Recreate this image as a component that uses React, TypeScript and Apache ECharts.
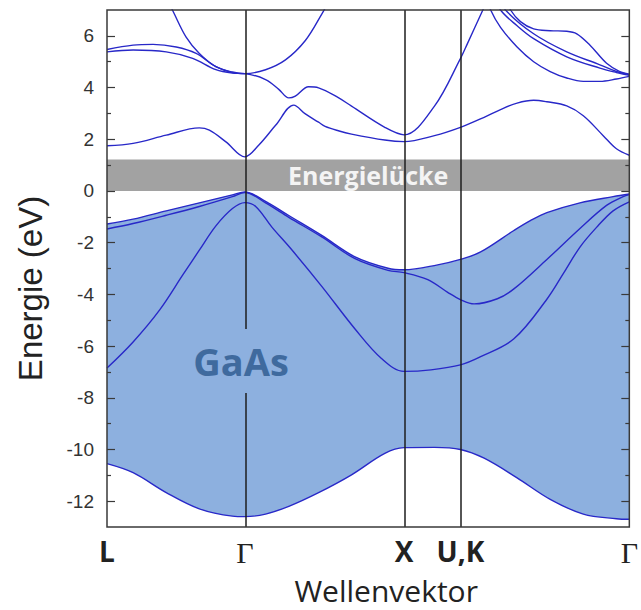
import React, { useEffect, useRef } from 'react';
import * as echarts from 'echarts';

// high-symmetry points along the k path (L - Γ - X - U,K - Γ)
const kTicks = [0, 0.866, 1.866, 2.22, 3.281];
const kLabels = ['L', 'Γ', 'X', 'U,K', 'Γ'];
const yMajor = [-12, -10, -8, -6, -4, -2, 0, 2, 4, 6];
const yMinor = [-11, -9, -7, -5, -3, -1, 1, 3, 5];
const gapBand = [0, 1.22];
const gaasLabelAt = [0.842, -6.58];

// valence bands [k, E(eV)]
const vb1 = [[0,-10.55],[0.164,-10.9],[0.372,-11.67],[0.58,-12.3],[0.788,-12.58],[0.866,-12.6],[0.996,-12.5],[1.142,-12.2],[1.329,-11.67],[1.536,-10.98],[1.745,-10.15],[1.866,-9.93],[2.057,-9.92],[2.22,-10.0],[2.369,-10.34],[2.576,-11.1],[2.784,-11.93],[2.992,-12.5],[3.2,-12.68],[3.281,-12.7]];
const vb2 = [[0,-6.85],[0.164,-5.84],[0.331,-4.6],[0.476,-3.25],[0.58,-2.29],[0.684,-1.35],[0.788,-0.68],[0.866,-0.45],[0.934,-0.6],[1.037,-1.41],[1.15,-2.2],[1.349,-3.69],[1.558,-5.34],[1.724,-6.48],[1.866,-6.98],[2.035,-6.92],[2.22,-6.73],[2.347,-6.41],[2.556,-5.72],[2.763,-4.19],[2.868,-3.18],[2.971,-2.17],[3.075,-1.41],[3.179,-0.77],[3.281,-0.42]];
const vb3 = [[0,-1.47],[0.164,-1.26],[0.372,-0.94],[0.58,-0.6],[0.788,-0.22],[0.866,-0.06],[0.996,-0.46],[1.142,-1.02],[1.349,-1.78],[1.558,-2.62],[1.765,-3.07],[1.866,-3.16],[2.015,-3.43],[2.14,-3.92],[2.22,-4.2],[2.306,-4.37],[2.452,-4.17],[2.556,-3.79],[2.763,-2.65],[2.971,-1.45],[3.138,-0.56],[3.242,-0.22],[3.281,-0.14]];
const vb4 = [[0,-1.28],[0.164,-1.09],[0.372,-0.77],[0.58,-0.46],[0.788,-0.15],[0.866,-0.04],[0.996,-0.4],[1.142,-0.95],[1.349,-1.72],[1.558,-2.55],[1.765,-2.99],[1.866,-3.05],[2.077,-2.86],[2.22,-2.65],[2.347,-2.36],[2.556,-1.53],[2.659,-1.15],[2.763,-0.84],[2.971,-0.46],[3.179,-0.22],[3.281,-0.12]];

// conduction bands [k, E(eV)]
const cb1 = [[0,1.75],[0.164,1.84],[0.372,2.16],[0.58,2.44],[0.643,2.35],[0.747,1.9],[0.866,1.32],[0.954,1.78],[1.059,2.54],[1.173,3.32],[1.246,2.98],[1.329,2.66],[1.37,2.5],[1.453,2.33],[1.536,2.2],[1.745,1.97],[1.866,1.91],[2.057,2.14],[2.22,2.46],[2.369,2.85],[2.472,3.15],[2.576,3.4],[2.68,3.51],[2.763,3.45],[2.888,3.29],[2.992,2.91],[3.117,2.14],[3.2,1.63],[3.281,1.38]];
const cb2 = [[0,5.38],[0.164,5.45],[0.372,5.38],[0.538,5.13],[0.684,4.69],[0.788,4.56],[0.866,4.54],[0.996,4.31],[1.079,3.93],[1.142,3.6],[1.183,3.67],[1.266,4.03],[1.329,3.99],[1.453,3.61],[1.536,3.28],[1.745,2.46],[1.866,2.17],[2.057,3.28],[2.22,5.12],[2.264,5.7],[2.358,6.96],[2.42,7.8]];
const cb3 = [[0,5.47],[0.164,5.64],[0.289,5.67],[0.435,5.57],[0.56,5.32],[0.684,4.81],[0.788,4.58],[0.866,4.54]];
const cb4 = [[0.37,7.5],[0.414,6.96],[0.497,5.95],[0.58,5.32],[0.684,4.81],[0.788,4.6],[0.866,4.54],[0.996,4.69],[1.121,5.07],[1.246,5.82],[1.349,6.84],[1.39,7.3]];
const cb5 = [[2.38,7.6],[2.41,7.0],[2.472,6.33],[2.576,5.57],[2.68,5.0],[2.784,4.62],[2.888,4.37],[2.992,4.24],[3.096,4.24],[3.2,4.33],[3.281,4.43]];
const cb6 = [[2.44,7.5],[2.472,7.0],[2.576,6.39],[2.68,5.89],[2.888,5.19],[3.096,4.75],[3.2,4.58],[3.281,4.47]];
const cb7 = [[2.48,7.4],[2.503,7.0],[2.68,6.08],[2.888,5.38],[3.096,4.88],[3.2,4.62],[3.281,4.5]];
const cb8 = [[2.51,7.4],[2.535,7.0],[2.597,6.55],[2.68,6.27],[2.784,6.2],[2.888,6.18],[2.951,6.08],[3.034,5.64],[3.138,4.94],[3.221,4.62],[3.281,4.52]];

export default function App() {
  const ref = useRef<HTMLDivElement>(null);
  useEffect(() => {
    if (!ref.current) return;
    const chart = echarts.init(ref.current, undefined, { renderer: 'svg' });
    const lineColor = '#2828c8';
    const fillColor = '#8db0df';
    const axisColor = '#3a3a3a';
    const mkLine = (name: string, data: number[][], extra: any = {}) => ({
      type: 'line', name, data, smooth: 0.35, symbol: 'none', showSymbol: false,
      lineStyle: { color: lineColor, width: 1.4 }, silent: true, z: 3, ...extra,
    });
    const yBase = {
      type: 'value', min: -13, max: 7, z: 10,
      splitLine: { show: false }, axisLine: { show: false },
    };
    const tickStyle = { color: axisColor, width: 1.2 };
    const nearestIdx = (v: number) => {
      let best = 0;
      kTicks.forEach((k, i) => { if (Math.abs(k - v) < Math.abs(kTicks[best] - v)) best = i; });
      return best;
    };
    const option: any = {
      animation: false,
      grid: { left: 107, right: 8, top: 10, bottom: 76, show: true, borderColor: axisColor, borderWidth: 1.5, backgroundColor: 'transparent', z: 10 },
      xAxis: {
        type: 'value', min: kTicks[0], max: kTicks[kTicks.length - 1], z: 10,
        axisLine: { show: false }, axisTick: { show: false }, splitLine: { show: false },
        axisLabel: {
          customValues: kTicks, margin: 10,
          formatter: (v: number) => {
            const lab = kLabels[nearestIdx(v)];
            return lab === 'Γ' ? '{g|Γ}' : '{b|' + lab + '}';
          },
          rich: {
            g: { fontFamily: 'Liberation Serif', fontSize: 30, color: '#222' },
            b: { fontFamily: 'Open Sans', fontWeight: 'bold', fontSize: 28, color: '#222' },
          },
        },
        name: 'Wellenvektor', nameLocation: 'middle', nameGap: 48,
        nameTextStyle: { fontFamily: 'Open Sans', fontSize: 30, color: '#222', padding: [0, 0, 0, 36] },
      },
      yAxis: [
        {
          ...yBase, position: 'left',
          axisTick: { show: true, inside: true, length: 8, customValues: yMajor, lineStyle: tickStyle },
          axisLabel: { customValues: yMajor, margin: 13, fontFamily: 'Liberation Sans', fontSize: 19, color: '#333' },
          name: 'Energie (eV)', nameLocation: 'middle', nameGap: 60,
          nameTextStyle: { fontFamily: 'Liberation Sans', fontSize: 33, color: '#222', padding: [0, 40, 0, 0] },
        },
        { ...yBase, position: 'left', axisTick: { show: true, inside: true, length: 4, customValues: yMinor, lineStyle: tickStyle }, axisLabel: { show: false } },
        { ...yBase, position: 'right', axisTick: { show: true, inside: true, length: 8, customValues: yMajor, lineStyle: tickStyle }, axisLabel: { show: false } },
        { ...yBase, position: 'right', axisTick: { show: true, inside: true, length: 4, customValues: yMinor, lineStyle: tickStyle }, axisLabel: { show: false } },
      ],
      series: [
        mkLine('vb4', vb4, {
          z: 2,
          areaStyle: { color: fillColor, opacity: 1, origin: 'start' },
          markArea: {
            silent: true,
            itemStyle: { color: '#a2a2a2', opacity: 1 },
            label: { show: true, position: 'inside', formatter: 'Energielücke', color: '#f4f4f4', fontSize: 25, fontWeight: 'bold', fontFamily: 'Open Sans' },
            emphasis: { disabled: true },
            data: [[{ yAxis: gapBand[0] }, { yAxis: gapBand[1] }]],
          },
        }),
        mkLine('vb1', vb1, { z: 2, areaStyle: { color: '#ffffff', opacity: 1, origin: 'start' } }),
        mkLine('vb2', vb2, {
          markLine: {
            silent: true, symbol: ['none', 'none'], label: { show: false },
            lineStyle: { color: '#1e1e1e', width: 1.5, type: 'solid' },
            emphasis: { disabled: true },
            data: kTicks.slice(1, 4).map((k) => ({ xAxis: k })),
            z: 5,
          },
        }),
        mkLine('vb3', vb3, {
          markPoint: {
            z: 10, silent: true, symbol: 'rect', symbolSize: 0,
            data: [{ coord: gaasLabelAt }],
            label: {
              show: true, position: 'inside', formatter: 'GaAs',
              fontSize: 38, fontWeight: 'bold', fontFamily: 'Open Sans', color: '#3f6a9e',
              backgroundColor: fillColor, padding: [14, 6, 12, 6],
            },
          },
        }),
        mkLine('cb1', cb1),
        mkLine('cb2', cb2),
        mkLine('cb3', cb3),
        mkLine('cb4', cb4),
        mkLine('cb5', cb5),
        mkLine('cb6', cb6),
        mkLine('cb7', cb7),
        mkLine('cb8', cb8),
      ],
    };
    chart.setOption(option);
    return () => chart.dispose();
  }, []);
  return <div ref={ref} style={{ position: 'fixed', left: 0, top: 0, width: 641, height: 610, background: '#fff' }} />;
}
